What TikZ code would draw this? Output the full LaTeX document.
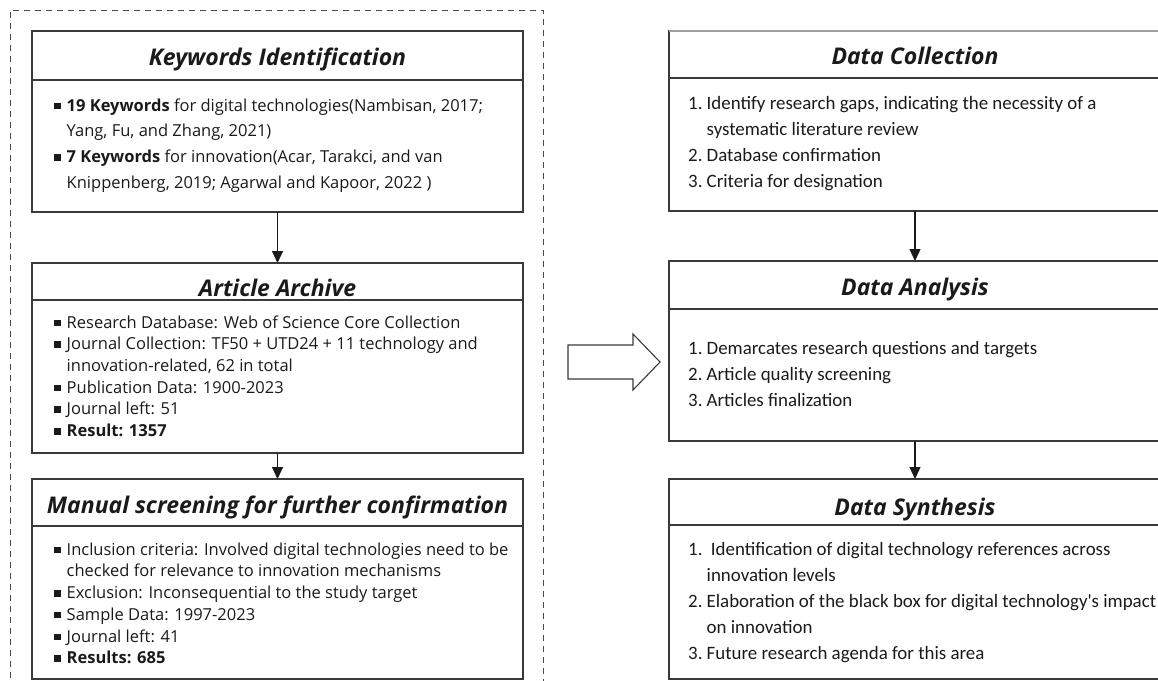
\documentclass[tikz,border=0pt]{standalone}
\usepackage{fontspec}
\setmainfont{Open Sans}
\newfontfamily\numfont{Carlito}
\usetikzlibrary{arrows.meta}

\definecolor{ink}{HTML}{1A1A1A}
\definecolor{rulegrey}{HTML}{3A3A3A}
\definecolor{softgrey}{HTML}{A0A0A0}
\definecolor{dashgrey}{HTML}{4A4A4A}

% square bullet with hanging indent
\newcommand{\blt}{\makebox[12.5pt][l]{\rule[2pt]{6.5pt}{6.5pt}}}
\newcommand{\bind}{\hspace*{12.5pt}}
% numbered item with hanging indent
\newcommand{\itm}[1]{\makebox[18.5pt][l]{#1}}
\newcommand{\nind}{\hspace*{18.5pt}}

\begin{document}
\begin{tikzpicture}[x=1pt,y=-1pt,
  panel/.style={draw=rulegrey, line width=1.2pt, minimum width=491pt,
    inner sep=0pt, outer sep=0pt, anchor=north west},
  divider/.style={draw=rulegrey, line width=1.2pt},
  heading/.style={font=\fontsize{23}{27}\selectfont\bfseries\itshape,
    text=ink, anchor=base, inner sep=0pt},
  leftbody/.style={font=\fontsize{16.5}{21.7}\selectfont, text=ink,
    anchor=north west, align=left, inner sep=0pt},
  keybody/.style={leftbody, font=\fontsize{16.5}{25.7}\selectfont},
  rightbody/.style={font=\numfont\fontsize{18.9}{26}\selectfont, text=ink,
    anchor=north west, align=left, inner sep=0pt},
  flow/.style={draw=ink, line width=1.2pt, -{Triangle[width=11pt,length=12pt]}},
  frame/.style={draw=dashgrey, line width=1pt, dash pattern=on 6pt off 5pt},
  handoff/.style={draw=rulegrey, line width=1.1pt, fill=white}
]
\useasboundingbox (0,0) rectangle (1158,680);

% dashed frame round the left column
\draw[frame] (10,700) -- (10,10) -- (543,10) -- (543,700);

% ---------- left column ----------
\node[panel, minimum height=181pt] (ki) at (32,31) {};
\node[panel, minimum height=190pt] (aa) at (32,263) {};
\node[panel, minimum height=200pt] (ms) at (32,479) {};

\draw[divider] (32,80) -- (523,80);
\draw[divider] (32,300) -- (523,300);
\draw[divider] (32,526) -- (523,526);

\node[heading] (kih) at (277.5,65) {Keywords Identification};
\node[heading] (aah) at (277.5,296) {Article Archive};
\node[heading] (msh) at (277.5,513) {Manual screening for further confirmation};

\node[keybody] (kib) at (54,93) {\strut\blt\textbf{19 Keywords} for digital technologies(Nambisan, 2017;\\
\bind Yang, Fu, and Zhang, 2021)\\
\blt\textbf{7 Keywords} for innovation(Acar, Tarakci, and van\\
\bind Knippenberg, 2019; Agarwal and Kapoor, 2022 )};

\node[leftbody] (aab) at (54,312.8) {\strut\blt Research Database: Web of Science Core Collection\\
\blt Journal Collection: TF50 + UTD24 + 11 technology and\\
\bind innovation-related, 62 in total\\
\blt Publication Data: 1900-2023\\
\blt Journal left: 51\\
\blt\textbf{Result: 1357}};

\node[leftbody] (msb) at (54,539.8) {\strut\blt Inclusion criteria: Involved digital technologies need to be\\
\bind checked for relevance to innovation mechanisms\\
\blt Exclusion: Inconsequential to the study target\\
\blt Sample Data: 1997-2023\\
\blt Journal left: 41\\
\blt\textbf{Results: 685}};

\draw[flow] (ki.south) -- (aa.north);
\draw[flow] (aa.south) -- (ms.north);

% ---------- right column ----------
\node[panel, minimum width=492pt, minimum height=180pt] (dc) at (669,31) {};
\node[panel, minimum width=492pt, minimum height=180pt] (da) at (669,261) {};
\node[panel, minimum width=492pt, minimum height=200pt] (ds) at (669,479) {};
\draw[draw=softgrey, line width=1.2pt] (dc.north west) -- (dc.north east);

\draw[divider] (669,78) -- (1161,78);
\draw[divider] (669,309) -- (1161,309);
\draw[divider] (669,525) -- (1161,525);

\node[heading] (dch) at (915,64) {Data Collection};
\node[heading] (dah) at (915,295) {Data Analysis};
\node[heading] (dsh) at (915,515) {Data Synthesis};

\node[rightbody] (dcb) at (688,90.8) {\strut\itm{1.}Identify research gaps, indicating the necessity of a\\
\nind systematic literature review\\
\itm{2.}Database confirmation\\
\itm{3.}Criteria for designation};

\node[rightbody] (dab) at (688,335.8) {\strut\itm{1.}Demarcates research questions and targets\\
\itm{2.}Article quality screening\\
\itm{3.}Articles finalization};

\node[rightbody] (dsb) at (688,536.8) {\strut\itm{1.}\ Identification of digital technology references across\\
\nind innovation levels\\
\itm{2.}Elaboration of the black box for digital technology's impact\\
\nind on innovation\\
\itm{3.}Future research agenda for this area};

\draw[flow] (dc.south) -- (da.north);
\draw[flow] (da.south) -- (ds.north);

% hollow block arrow between the two columns
\draw[handoff] (568,345) -- (633,345) -- (633,334) -- (660,362)
  -- (633,390) -- (633,379) -- (568,379) -- cycle;
\end{tikzpicture}
\end{document}
